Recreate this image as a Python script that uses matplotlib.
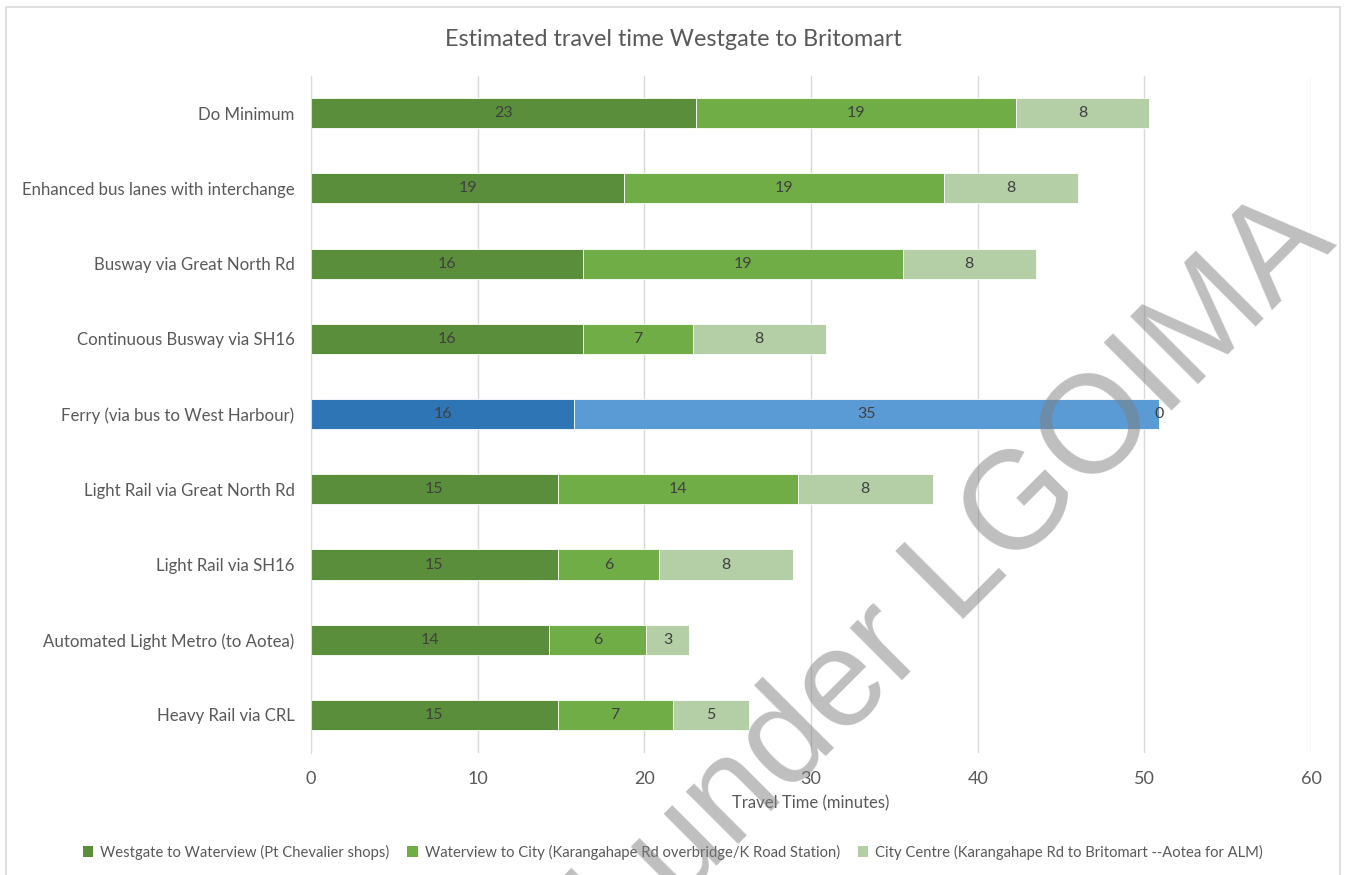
import matplotlib.pyplot as plt
from matplotlib.patches import Patch, Rectangle

# Travel time (minutes) per option, split into three legs
options = [
    "Do Minimum",
    "Enhanced bus lanes with interchange",
    "Busway via Great North Rd",
    "Continuous Busway via SH16",
    "Ferry (via bus to West Harbour)",
    "Light Rail via Great North Rd",
    "Light Rail via SH16",
    "Automated Light Metro (to Aotea)",
    "Heavy Rail via CRL",
]
leg_westgate = [23.1, 18.8, 16.3, 16.3, 15.8, 14.8, 14.8, 14.3, 14.8]
leg_city = [19.2, 19.2, 19.2, 6.6, 35.1, 14.4, 6.1, 5.8, 6.9]
leg_centre = [8.0, 8.0, 8.0, 8.0, 0.0, 8.1, 8.0, 2.6, 4.6]

series_names = [
    "Westgate to Waterview (Pt Chevalier shops)",
    "Waterview to City (Karangahape Rd overbridge/K Road Station)",
    "City Centre (Karangahape Rd to Britomart --Aotea for ALM)",
]

GREENS = ["#5A8E3A", "#70AD47", "#B4CFA5"]
BLUES = ["#2E75B6", "#5B9BD5", "#9DC3E6"]
GRID = "#D9D9D9"
TXT = "#595959"
LBL = "#404040"
FONT = ["Lato", "DejaVu Sans"]

plt.rcParams["font.family"] = FONT

fig = plt.figure(figsize=(13.46, 8.75), dpi=100)
ax = fig.add_axes([0.2311, 0.1399, 0.7429, 0.7738])

ferry = options.index("Ferry (via bus to West Harbour)")
y = list(range(len(options)))
left = [0.0] * len(options)
for k, vals in enumerate([leg_westgate, leg_city, leg_centre]):
    cols = [BLUES[k] if i == ferry else GREENS[k] for i in y]
    bars = ax.barh(y, vals, left=left, height=0.4, color=cols,
                   edgecolor="white", linewidth=0.6, zorder=2)
    ax.bar_label(bars, labels=[f"{v:.0f}" for v in vals], label_type="center",
                 color=LBL, fontsize=11.5)
    left = [a + b for a, b in zip(left, vals)]

ax.set_xlim(0, 60)
ax.set_xticks(range(0, 61, 10))
ax.set_ylim(len(options) - 0.5, -0.5)
ax.set_yticks(y)
ax.set_yticklabels(options)
ax.grid(axis="x", color=GRID, lw=1, zorder=0)
for s in ["top", "right", "bottom"]:
    ax.spines[s].set_visible(False)
ax.spines["left"].set_color(GRID)
ax.tick_params(length=0, colors=TXT, labelsize=12.1)
ax.tick_params(axis="x", pad=13, labelsize=13)
ax.tick_params(axis="y", pad=12)
ax.set_xlabel("Travel Time (minutes)", color=TXT, fontsize=12, labelpad=6)

fig.text(0.5, 0.955, "Estimated travel time Westgate to Britomart",
         ha="center", va="center", color=TXT, fontsize=16.8)

handles = [Patch(facecolor=c, edgecolor="none") for c in GREENS]
fig.legend(handles, series_names, loc="center", bbox_to_anchor=(0.5, 0.026),
           ncol=3, frameon=False, fontsize=10.6, labelcolor=TXT,
           handlelength=0.7, handleheight=0.7, handletextpad=0.5,
           columnspacing=1.2)

# chart frame
fig.add_artist(Rectangle((6 / 1346, -0.05), 1334 / 1346, 1.05 - 7 / 875,
                         transform=fig.transFigure, fill=False,
                         edgecolor=GRID, lw=1.2))

# watermark
fig.text(1338 / 1346, 1 - 245 / 875, "Released under LGOIMA",
         ha="right", va="baseline", rotation=45, rotation_mode="anchor",
         fontsize=100, color="#7F7F7F", alpha=0.5, zorder=10,
         family=["Liberation Sans", "DejaVu Sans"])

fig.savefig("out.png", dpi=100)
